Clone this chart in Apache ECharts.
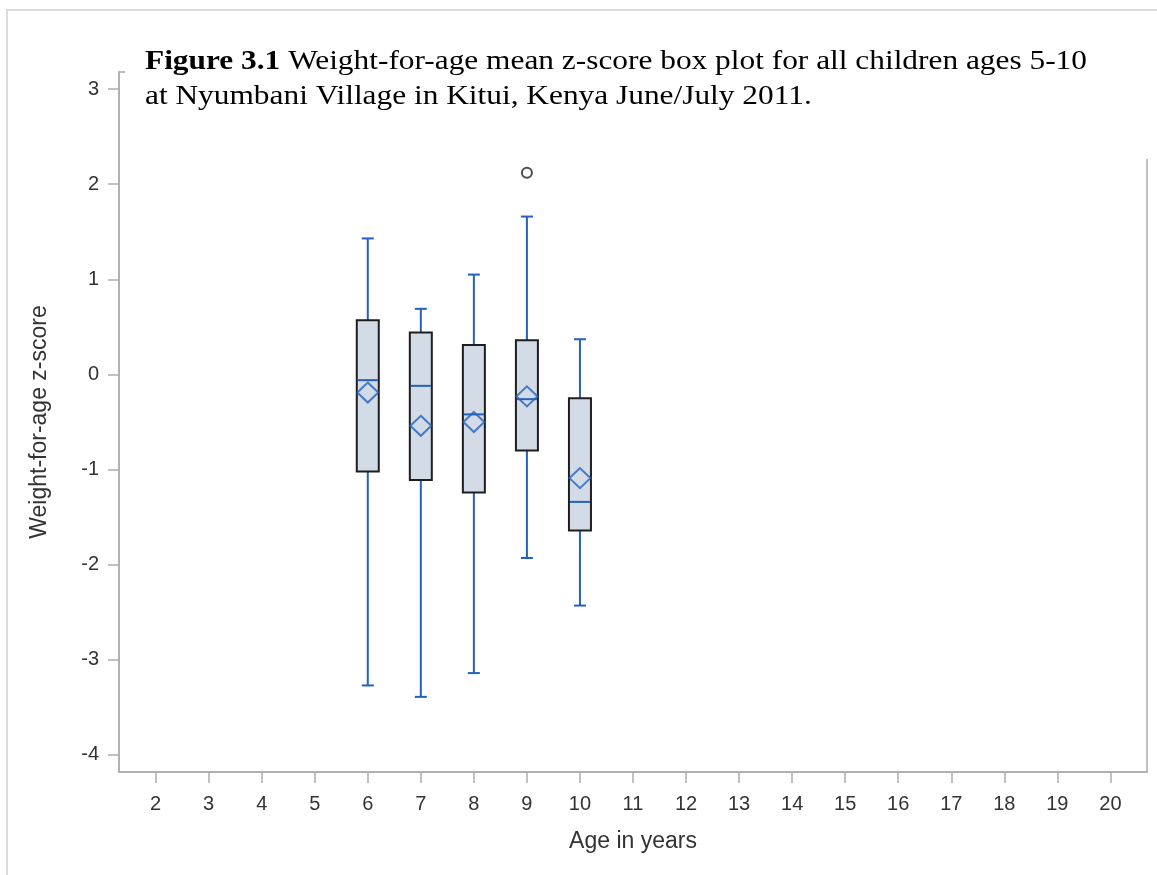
<!DOCTYPE html>
<html>
<head>
<meta charset="utf-8">
<script src="https://cdn.jsdelivr.net/npm/echarts@6/dist/echarts.min.js"></script>
<style>
html,body{margin:0;padding:0;background:#fff;}
#chart{width:1157px;height:875px;}
</style>
</head>
<body>
<div id="chart"></div>
<script>
// ---- data ----
var ages        = [6, 7, 8, 9, 10];
var whiskerLow  = [-3.27, -3.39, -3.14, -1.93, -2.43];
var q1          = [-1.02, -1.11, -1.24, -0.80, -1.64];
var medians     = [-0.06, -0.12, -0.42, -0.26, -1.34];
var q3          = [0.57, 0.44, 0.31, 0.36, -0.25];
var whiskerHigh = [1.43, 0.69, 1.05, 1.66, 0.37];
var means       = [-0.19, -0.54, -0.50, -0.23, -1.09];
var outlierAges   = [9];
var outlierValues = [2.12];
var xTicks = [2,3,4,5,6,7,8,9,10,11,12,13,14,15,16,17,18,19,20];
var yTicks = [-4,-3,-2,-1,0,1,2,3];

var boxData = ages.map(function (a, i) {
  return [a, whiskerLow[i], q1[i], medians[i], q3[i], whiskerHigh[i]];
});
var meanData = ages.map(function (a, i) { return [a, means[i]]; });
var outlierData = outlierAges.map(function (a, i) { return [a, outlierValues[i]]; });

var BLUE = '#2461bd';
var AXIS = '#a9adb2';
var LABEL = '#333333';
var SANS = '"Liberation Sans", Arial, sans-serif';
var SERIF = '"Liberation Serif", "Times New Roman", serif';

function renderBox(params, api) {
  var x = api.value(0);
  var pLow = api.coord([x, api.value(1)]);
  var pQ1 = api.coord([x, api.value(2)]);
  var pMed = api.coord([x, api.value(3)]);
  var pQ3 = api.coord([x, api.value(4)]);
  var pHigh = api.coord([x, api.value(5)]);
  var cx = pMed[0];
  var hw = 11, cap = 6;
  var ls = {stroke: BLUE, lineWidth: 2};
  return {
    type: 'group',
    children: [
      {type: 'line', shape: {x1: cx, y1: pHigh[1], x2: cx, y2: pQ3[1]}, style: ls},
      {type: 'line', shape: {x1: cx, y1: pQ1[1], x2: cx, y2: pLow[1]}, style: ls},
      {type: 'line', shape: {x1: cx - cap, y1: pHigh[1], x2: cx + cap, y2: pHigh[1]}, style: ls},
      {type: 'line', shape: {x1: cx - cap, y1: pLow[1], x2: cx + cap, y2: pLow[1]}, style: ls},
      {type: 'rect', shape: {x: cx - hw, y: pQ3[1], width: 2 * hw, height: pQ1[1] - pQ3[1]},
        style: {fill: '#d3dbe7', stroke: '#1e1e1e', lineWidth: 2}},
      {type: 'line', shape: {x1: cx - hw + 1, y1: pMed[1], x2: cx + hw - 1, y2: pMed[1]}, style: ls}
    ]
  };
}

var chart = echarts.init(document.getElementById('chart'), null, {renderer: 'canvas'});
chart.setOption({
  animation: false,
  backgroundColor: '#ffffff',
  grid: {
    left: 119, right: 10, top: 72, bottom: 103,
    show: true, borderColor: AXIS, borderWidth: 1.5, backgroundColor: 'transparent'
  },
  xAxis: {
    type: 'value', min: 1.31, max: 20.69,
    name: 'Age in years', nameLocation: 'middle', nameGap: 58,
    nameTextStyle: {fontFamily: SANS, fontSize: 23, color: LABEL},
    axisLine: {show: true, onZero: false, lineStyle: {color: AXIS, width: 1.5}},
    axisTick: {show: true, inside: false, length: 11, lineStyle: {color: AXIS, width: 1.5}, customValues: xTicks},
    axisLabel: {show: true, margin: 22, fontFamily: SANS, fontSize: 20, color: LABEL, customValues: xTicks},
    splitLine: {show: false}
  },
  yAxis: {
    type: 'value', min: -4.18, max: 3.18,
    name: 'Weight-for-age z-score', nameLocation: 'middle', nameGap: 68, nameRotate: 90,
    nameTextStyle: {fontFamily: SANS, fontSize: 23, color: LABEL},
    axisLine: {show: true, onZero: false, lineStyle: {color: AXIS, width: 1.5}},
    axisTick: {show: true, inside: false, length: 11, lineStyle: {color: AXIS, width: 1.5}, customValues: yTicks},
    axisLabel: {show: true, margin: 20, fontFamily: SANS, fontSize: 20, color: LABEL, customValues: yTicks},
    splitLine: {show: false}
  },
  series: [
    {type: 'custom', renderItem: renderBox, data: boxData, encode: {x: 0, y: [1, 2, 3, 4, 5]}, z: 2},
    {type: 'scatter', data: meanData, symbol: 'diamond', symbolSize: [21, 20],
      itemStyle: {color: 'rgba(0,0,0,0)', borderColor: BLUE, borderWidth: 2}, z: 3},
    {type: 'scatter', data: outlierData, symbol: 'circle', symbolSize: 10,
      itemStyle: {color: 'rgba(0,0,0,0)', borderColor: '#222222', borderWidth: 2}, z: 3}
  ],
  graphic: [
    {type: 'rect', z: 100, silent: true, shape: {x: 125, y: 14, width: 1100, height: 145},
      style: {fill: '#ffffff'}},
    {type: 'rect', z: 101, silent: true, shape: {x: 7, y: 10, width: 1300, height: 1000},
      style: {fill: 'none', stroke: '#dcdcdc', lineWidth: 2}},
    {type: 'text', z: 102, silent: true, x: 145, y: 44, scaleX: 1.12, scaleY: 1.0,
      style: {
        x: 0, y: 0, align: 'left', verticalAlign: 'top',
        text: '{b|Figure 3.1} Weight-for-age mean z-score box plot for all children ages 5-10\nat Nyumbani Village in Kitui, Kenya June/July 2011.',
        font: '28px ' + SERIF,
        fill: '#000000', lineHeight: 35,
        rich: {b: {fontWeight: 'bold', fontFamily: SERIF, fontSize: 28, lineHeight: 35}}
      }}
  ]
});
</script>
</body>
</html>
